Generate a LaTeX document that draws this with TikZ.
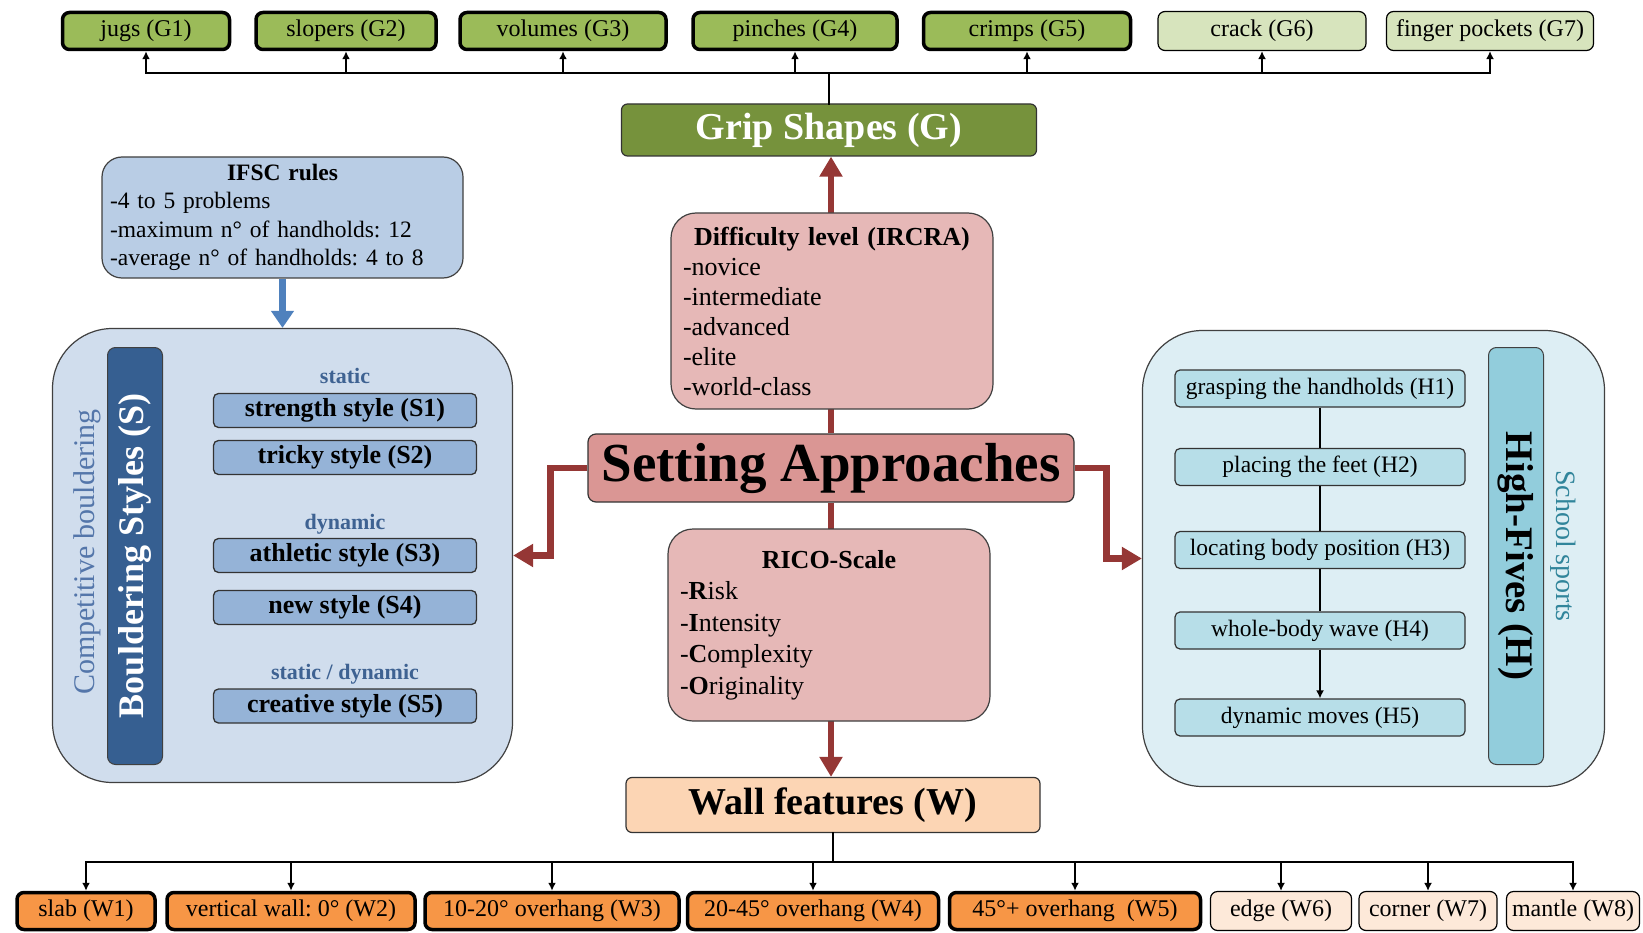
\documentclass[tikz,border=0pt]{standalone}
\usepackage{fontspec}
\setmainfont{Liberation Serif}
\usetikzlibrary{arrows.meta,calc}
\definecolor{gripdark}{RGB}{118,146,60}
\definecolor{gripgreen}{RGB}{155,187,89}
\definecolor{griplight}{RGB}{215,228,189}
\definecolor{wallpeach}{RGB}{252,213,180}
\definecolor{wallorange}{RGB}{247,150,70}
\definecolor{walllight}{RGB}{253,233,217}
\definecolor{setred}{RGB}{218,150,148}
\definecolor{setpink}{RGB}{230,184,183}
\definecolor{arrowred}{RGB}{149,55,53}
\definecolor{ifscblue}{RGB}{185,205,229}
\definecolor{stylebg}{RGB}{208,221,237}
\definecolor{stylebar}{RGB}{54,95,145}
\definecolor{stylebox}{RGB}{149,179,215}
\definecolor{labelblue}{RGB}{62,98,146}
\definecolor{compblue}{RGB}{84,118,170}
\definecolor{arrowblue}{RGB}{79,129,189}
\definecolor{hcontbg}{RGB}{221,238,244}
\definecolor{hboxblue}{RGB}{183,222,232}
\definecolor{hbarblue}{RGB}{146,205,220}
\definecolor{schoolteal}{RGB}{49,133,155}
\newcommand{\safont}[2]{\fontsize{#1}{#2}\selectfont}
\newcommand{\boxtitle}[1]{\makebox[\linewidth][c]{\textbf{#1}}}
\frenchspacing

\begin{document}
\begin{tikzpicture}[x=1pt,y=-1pt,>=Latex,
  gthick/.style={draw=black,line width=3.5pt,rounded corners=7pt,fill=gripgreen,minimum height=37pt,inner sep=0pt,font=\safont{24}{28}},
  gthin/.style={gthick,line width=1.2pt,fill=griplight,minimum height=39pt},
  wthick/.style={gthick,fill=wallorange},
  wthin/.style={gthin,fill=walllight},
  headbox/.style={draw=black!80,line width=1.2pt,rounded corners=6pt,inner sep=0pt,font=\safont{38}{44}\bfseries},
  pinkbox/.style={draw=black!75,line width=1.2pt,rounded corners=25pt,fill=setpink,text width=298pt,inner xsep=12pt,inner ysep=0pt,align=left},
  sbox/.style={draw=black!80,line width=1.3pt,rounded corners=5pt,fill=stylebox,minimum width=263pt,minimum height=34pt,inner sep=0pt,font=\safont{26}{30}\bfseries},
  slabel/.style={text=labelblue,font=\safont{22}{26}\bfseries,inner sep=0pt},
  hbox/.style={draw=black!80,line width=1.2pt,rounded corners=5pt,fill=hboxblue,minimum width=290pt,minimum height=37pt,inner sep=0pt,font=\safont{23.5}{28}},
  bar/.style={draw=black!75,line width=1pt,rounded corners=8pt,minimum width=417pt,minimum height=55pt,inner sep=0pt},
  cont/.style={draw=black!75,line width=1.2pt,rounded corners=60pt,inner sep=0pt},
  blkline/.style={line width=2.8pt,line cap=rect},
  blkarr/.style={line width=2.8pt,-{Latex[length=8pt,width=8pt]}},
  redarr/.style={draw=arrowred,line width=6.5pt,-{Triangle[length=20pt,width=22pt]}},
  bluearr/.style={draw=arrowblue,line width=7pt,-{Triangle[length=17pt,width=22pt]}}]
\useasboundingbox (0,0) rectangle (1643,933);

\node[gthick,minimum width=167pt] (g1) at (146,31) {jugs (G1)};
\node[gthick,minimum width=180pt] (g2) at (346,31) {slopers (G2)};
\node[gthick,minimum width=206pt] (g3) at (563,31) {volumes (G3)};
\node[gthick,minimum width=204pt] (g4) at (795,31) {pinches (G4)};
\node[gthick,minimum width=207pt] (g5) at (1027,31) {crimps (G5)};
\node[gthin,minimum width=208pt] (g6) at (1262,31) {crack (G6)};
\node[gthin,minimum width=207pt] (g7) at (1490,31) {finger pockets (G7)};

\node[wthick,minimum width=138pt] (w1) at (86,911) {slab (W1)};
\node[wthick,minimum width=248pt] (w2) at (291,911) {vertical wall: 0° (W2)};
\node[wthick,minimum width=254pt] (w3) at (552,911) {10-20° overhang (W3)};
\node[wthick,minimum width=251pt] (w4) at (813,911) {20-45° overhang (W4)};
\node[wthick,minimum width=251pt] (w5) at (1075,911) {45°+ overhang~ (W5)};
\node[wthin,minimum width=141pt] (w6) at (1281,911) {edge (W6)};
\node[wthin,minimum width=138pt] (w7) at (1428,911) {corner (W7)};
\node[wthin,minimum width=133pt] (w8) at (1573,911) {mantle (W8)};

\node[headbox,fill=gripdark,text=white,minimum width=415pt,minimum height=52pt] (grip) at (829,130) {Grip Shapes (G)};
\node[headbox,fill=wallpeach,minimum width=414pt,minimum height=55pt] (wall) at (833,805) {Wall features (W)};
\node[headbox,fill=setred,rounded corners=8pt,minimum width=486pt,minimum height=68pt,font=\safont{55}{60}\bfseries] (set) at (831,468) {Setting Approaches};

\coordinate (gbar) at (829,73);
\draw[blkline] (grip.north) -- (gbar);
\draw[blkline] (g1.south |- gbar) -- (g7.south |- gbar);
\foreach \i in {1,...,7} \draw[blkarr] (g\i.south |- gbar) -- (g\i.south);
\coordinate (wbar) at (833,862);
\draw[blkline] (wall.south) -- (wbar);
\draw[blkline] (w1.north |- wbar) -- (w8.north |- wbar);
\foreach \i in {1,...,8} \draw[blkarr] (w\i.north |- wbar) -- (w\i.north);

\node[cont,fill=stylebg,minimum width=460pt,minimum height=454pt] (scont) at (282.5,555.5) {};
\node[cont,fill=hcontbg,minimum width=462pt,minimum height=456pt] (hcont) at (1373.5,558.5) {};

\draw[redarr] (set.north) -- (set.north |- grip.south);
\draw[redarr] (set.south) -- (set.south |- wall.north);
\draw[redarr] (set.west) -- ++(-37,0) |- (scont.east);
\draw[redarr] (set.east) -- ++(32,0) |- (hcont.west);

\node[pinkbox,minimum height=196pt,font=\safont{26}{30}] (diff) at (832,311) {\boxtitle{Difficulty level (IRCRA)}\\ -novice\\ -intermediate\\ -advanced\\ -elite\\ -world-class};
\node[pinkbox,minimum height=192pt,font=\safont{26}{31.5}] (rico) at (829,625) {\boxtitle{RICO-Scale}\\ -\textbf{R}isk\\ -\textbf{I}ntensity\\ -\textbf{C}omplexity\\ -\textbf{O}riginality};

\node[draw=black!75,line width=1.2pt,rounded corners=20pt,fill=ifscblue,text width=345pt,inner xsep=8pt,inner ysep=0pt,minimum height=121pt,align=left,font=\safont{23.5}{28.5}] (ifsc) at (282.5,217.5) {\boxtitle{IFSC rules}\\ -4 to 5 problems\\ -maximum n° of handholds: 12\\ -average n° of handholds: 4 to 8};
\draw[bluearr] (ifsc.south) -- (ifsc.south |- scont.north);

\node[bar,fill=stylebar,text=white,rotate=90,font=\safont{36}{40}\bfseries] (sbar) at (135,556) {Bouldering Styles (S)};
\node[rotate=90,text=compblue,font=\safont{30}{34},inner sep=0pt] (comp) at (87,552) {Competitive bouldering};
\node[slabel] (lstat) at (345,376) {static};
\node[sbox] (s1) at (345,410.5) {strength style (S1)};
\node[sbox] (s2) at (345,457.5) {tricky style (S2)};
\node[slabel] (ldyn) at (345,524) {dynamic};
\node[sbox] (s3) at (345,555.5) {athletic style (S3)};
\node[sbox] (s4) at (345,607.5) {new style (S4)};
\node[slabel] (lsd) at (345,674) {static / dynamic};
\node[sbox] (s5) at (345,706) {creative style (S5)};

\node[bar,fill=hbarblue,rotate=-90,font=\safont{39}{44}\bfseries] (hbar) at (1516,556) {High-Fives (H)};
\node[rotate=-90,text=schoolteal,font=\safont{28}{32},inner sep=0pt] (school) at (1563,546) {School sports};
\node[hbox] (h1) at (1320,388.5) {grasping the handholds (H1)};
\node[hbox] (h2) at (1320,467) {placing the feet (H2)};
\node[hbox] (h3) at (1320,550) {locating body position (H3)};
\node[hbox] (h4) at (1320,630.5) {whole-body wave (H4)};
\node[hbox] (h5) at (1320,717.5) {dynamic moves (H5)};
\draw[line width=2.8pt] (h1) -- (h2) (h2) -- (h3) (h3) -- (h4);
\draw[blkarr] (h4) -- (h5);
\end{tikzpicture}
\end{document}
